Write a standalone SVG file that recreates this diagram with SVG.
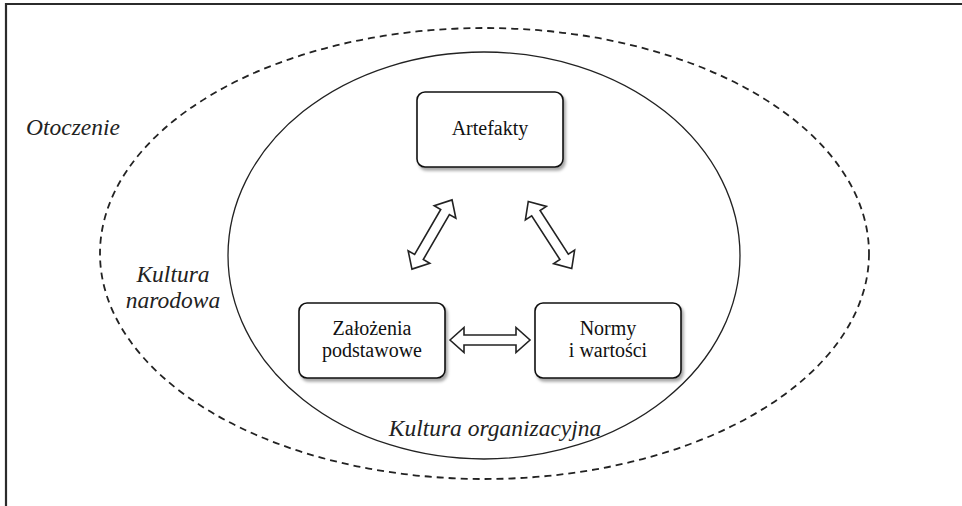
<svg xmlns="http://www.w3.org/2000/svg" width="962" height="506" viewBox="0 0 962 506">
<style>
.lbl{font-family:'Liberation Serif','Times New Roman','DejaVu Serif',serif;font-style:italic;font-size:23.5px;fill:#222}
.box{fill:#fff;stroke:#111;stroke-width:1.6;filter:url(#sh)}
.txt{font-family:'Liberation Serif','Times New Roman','DejaVu Serif',serif;font-size:20px;fill:#111;text-anchor:middle}
.arr{fill:#fff;stroke:#222;stroke-width:1.6;stroke-linejoin:miter}
</style>
<defs>
<filter id="sh" x="-10%" y="-10%" width="125%" height="130%">
<feDropShadow dx="2" dy="3" stdDeviation="1.5" flood-color="#000" flood-opacity="0.35"/>
</filter>
<path id="dbl" d="M -40 0 L -26 -12.5 L -26 -5 L 26 -5 L 26 -12.5 L 40 0 L 26 12.5 L 26 5 L -26 5 L -26 12.5 Z"/>
</defs>
<rect width="962" height="506" fill="#fff"/>
<path d="M6 506 V4 H962" fill="none" stroke="#2b2b2b" stroke-width="2.2"/>
<g id="otoczenie">
<text class="lbl" x="26" y="135" font-family="Liberation Serif, serif">Otoczenie</text>
</g>
<g id="kultura-narodowa">
<ellipse cx="484.5" cy="253.5" rx="384.5" ry="225.5" fill="none" stroke="#222" stroke-width="1.8" stroke-dasharray="7 5"/>
<text class="lbl" x="173" y="282" text-anchor="middle">Kultura</text>
<text class="lbl" x="173" y="308" text-anchor="middle">narodowa</text>
</g>
<g id="kultura-organizacyjna">
<ellipse cx="484" cy="255.5" rx="256" ry="203.5" fill="none" stroke="#222" stroke-width="1.3"/>
<text class="lbl" x="495" y="436" text-anchor="middle">Kultura organizacyjna</text>
</g>
<g id="artefakty">
<rect class="box" x="417" y="92" width="146" height="75" rx="8"/>
<text class="txt" x="490" y="135">Artefakty</text>
</g>
<g id="zalozenia">
<rect class="box" x="299" y="303" width="146" height="75" rx="8"/>
<text class="txt" x="372" y="335">Założenia</text>
<text class="txt" x="372" y="357">podstawowe</text>
</g>
<g id="normy">
<rect class="box" x="535" y="303" width="146" height="75" rx="8"/>
<text class="txt" x="608" y="335">Normy</text>
<text class="txt" x="608" y="357">i wartości</text>
</g>
<g id="connectors">
<use href="#dbl" class="arr" transform="translate(432 234.5) rotate(-59.9)"/>
<use href="#dbl" class="arr" transform="translate(550 235) rotate(57.1)"/>
<use href="#dbl" class="arr" transform="translate(490 340)"/>
</g>
</svg>
